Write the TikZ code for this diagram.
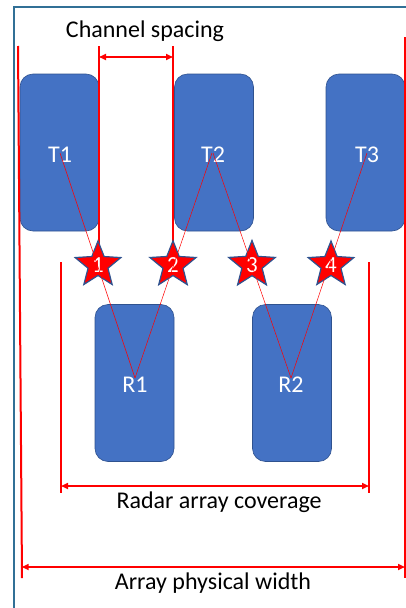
\documentclass[tikz,border=0pt]{standalone}
\usepackage{fontspec}
\setmainfont{Carlito}
\usetikzlibrary{shapes.geometric,arrows.meta,calc}
\definecolor{boxblue}{RGB}{68,114,196}
\definecolor{boxedge}{RGB}{47,82,143}
\definecolor{framec}{RGB}{49,112,150}
\definecolor{rline}{RGB}{255,0,0}
\tikzset{
  antenna/.style={rectangle, rounded corners=13pt, fill=boxblue, draw=boxedge, line width=0.6pt, minimum width=79pt, minimum height=157pt, inner sep=0pt},
  alabel/.style={text=white, font=\fontsize{24}{24}\selectfont, inner sep=0pt},
  starnode/.style={star, star points=5, star point ratio=2.3, minimum size=45pt, inner sep=0pt, fill=rline, draw=boxedge, line width=1.2pt, text=white, font=\fontsize{23}{23}\selectfont},
  redbar/.style={draw=rline, line width=2pt},
  dimarrow/.style={draw=rline, line width=1.6pt, {Triangle[length=7pt,width=6pt]}-{Triangle[length=7pt,width=6pt]}},
  ray/.style={draw=rline, line width=0.5pt},
  caption/.style={font=\fontsize{24}{24}\selectfont, text=black, inner sep=0pt}
}
\begin{document}
\begin{tikzpicture}[x=1pt,y=-1pt]
\useasboundingbox (0,0) rectangle (406,608);
% frame
\draw[framec, line width=2pt] (14,608) -- (14,7) -- (406,7);
% antenna boxes
\node[antenna] (bT1) at (59.5,152.5) {};
\node[antenna] (bT2) at (214,152.5) {};
\node[antenna] (bT3) at (365.5,152.5) {};
\node[antenna] (bR1) at (134.5,383) {};
\node[antenna] (bR2) at (292,383) {};
% labels
\node[alabel] (t1) at (60,155) {T1};
\node[alabel] (t2) at (213,155) {T2};
\node[alabel] (t3) at (367,155) {T3};
\node[alabel] (r1) at (135,385) {R1};
\node[alabel] (r2) at (291,385) {R2};
% helper coordinates
\coordinate (cs1top) at (99,46);
\coordinate (cs2top) at (173,46);
\coordinate (cs1bot) at (99,262);
\coordinate (cs2bot) at (173,262);
\coordinate (rc1top) at (61,262);
\coordinate (rc1bot) at (61,493);
\coordinate (rc2top) at (369,262);
\coordinate (rc2bot) at (369,493);
\coordinate (pw1top) at (18,46);
\coordinate (pw1bot) at (22,578);
\coordinate (pw2top) at (405,37);
\coordinate (pw2bot) at (405,578);
% vertical bars
\draw[redbar] (cs1top) -- (cs1bot);
\draw[redbar] (cs2top) -- (cs2bot);
\draw[redbar] (rc1top) -- (rc1bot);
\draw[redbar] (rc2top) -- (rc2bot);
\draw[redbar] (pw1top) -- (pw1bot);
\draw[redbar] (pw2top) -- (pw2bot);
% dimension arrows
\coordinate (csa1) at (99,57);
\coordinate (csa2) at (173,57);
\draw[dimarrow] (csa1) -- (csa2);
\coordinate (rca1) at (61,486);
\coordinate (rca2) at (369,486);
\draw[dimarrow] (rca1) -- (rca2);
\coordinate (pwa1) at (21.7,567);
\coordinate (pwa2) at (405,567);
\draw[dimarrow] (pwa1) -- (pwa2);
% captions
\node[caption] (cap1) at (145,31) {Channel spacing};
\node[caption] (cap2) at (219,502) {Radar array coverage};
\node[caption] (cap3) at (213,583) {Array physical width};
% stars
\node[starnode] (s1) at (98,265) {1};
\node[starnode] (s2) at (173,265) {2};
\node[starnode] (s3) at (252,265) {3};
\node[starnode] (s4) at (331,265) {4};
% rays
\draw[ray] ($(t1.center)+(0,-2)$) -- ($(r1.center)+(0,-7)$);
\draw[ray] ($(t2.center)+(-1,-2)$) -- ($(r1.center)+(0,-7)$);
\draw[ray] ($(t2.center)+(0,-2)$) -- ($(r2.center)+(0,-7)$);
\draw[ray] ($(t3.center)+(0,-2)$) -- ($(r2.center)+(0,-7)$);
\end{tikzpicture}
\end{document}
